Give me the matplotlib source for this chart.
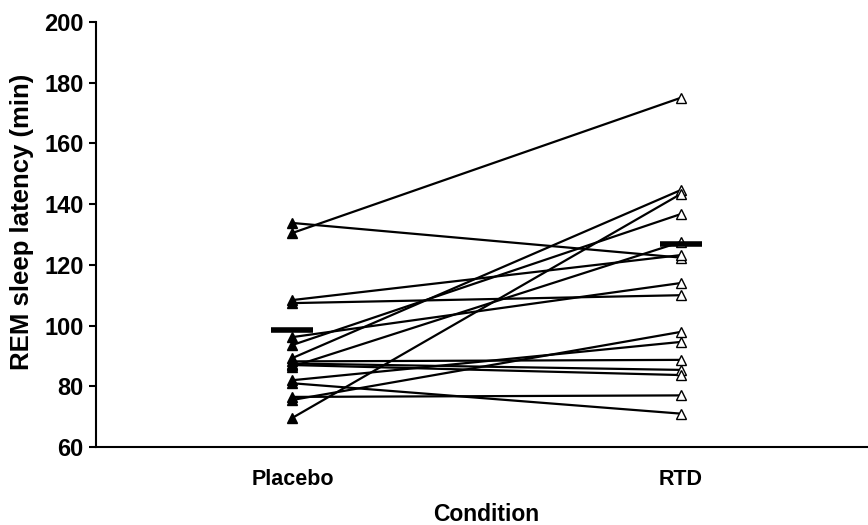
import matplotlib
matplotlib.use("Agg")
import matplotlib.pyplot as plt

# REM sleep latency (min) per subject
CONDITIONS = ["Placebo", "RTD"]
PLACEBO = [133.8, 130.5, 108.4, 107.4, 96.2, 93.6, 89.3, 88.2,
           87.5, 87.0, 86.5, 82.0, 81.0, 76.5, 75.5, 69.6]
RTD = [122.4, 175.0, 123.2, 110.0, 114.0, 136.7, 144.6, 88.7,
       85.4, 83.7, 127.5, 94.6, 71.0, 77.0, 97.9, 143.3]
GROUP_MEAN = [98.4, 127.0]

YTICKS = [60, 80, 100, 120, 140, 160, 180, 200]

plt.rcParams["font.family"] = ["Liberation Sans", "DejaVu Sans"]
plt.rcParams["font.weight"] = "bold"

fig = plt.figure(figsize=(8.68, 5.25), dpi=100)
ax = fig.add_axes([96 / 868, 1 - 447 / 525, 772 / 868, 425 / 525])

xs = [1, 2]
for p, r in zip(PLACEBO, RTD):
    ax.plot(xs, [p, r], color="black", lw=1.6, zorder=2)
ax.plot([xs[0]] * len(PLACEBO), PLACEBO, ls="none", marker="^", ms=7.5,
        mfc="black", mec="black", mew=1, zorder=3)
ax.plot([xs[1]] * len(RTD), RTD, ls="none", marker="^", ms=7.5,
        mfc="white", mec="black", mew=1, zorder=3)

# group mean bars
ax.plot(xs, GROUP_MEAN, ls="none", marker="_", ms=30, mew=4,
        color="black", zorder=4)

ax.set_xlim(0.494, 2.483)
ax.set_ylim(60, 200)
ax.set_yticks(YTICKS)
ax.set_xticks(xs)
ax.set_xticklabels(CONDITIONS)

for side in ("top", "right"):
    ax.spines[side].set_visible(False)
for side in ("left", "bottom"):
    ax.spines[side].set_linewidth(1.5)

ax.tick_params(axis="y", length=5, width=1.5, pad=4, labelsize=17)
ax.tick_params(axis="x", length=0, pad=16, labelsize=15.5)

ax.set_xlabel("Condition", fontsize=16.5, fontweight="bold")
ax.set_ylabel("REM sleep latency (min)", fontsize=18.5, fontweight="bold")
ax.xaxis.set_label_coords(0.505, -0.132)
ax.yaxis.set_label_coords(-0.08, 0.53)

fig.savefig("out.png", dpi=100, facecolor="white")
